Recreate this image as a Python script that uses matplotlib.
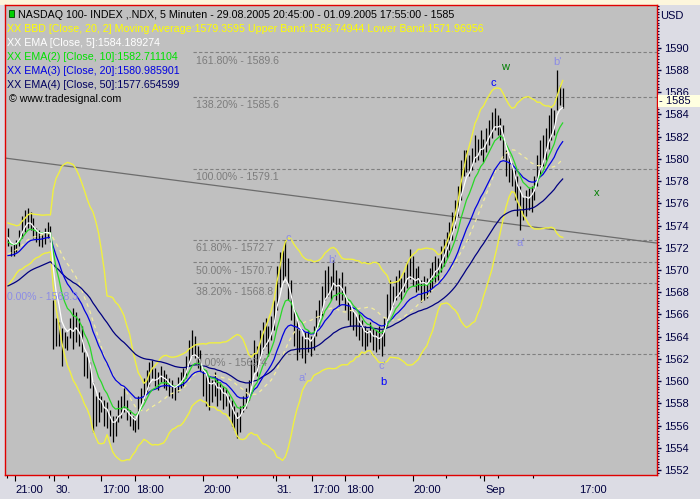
import numpy as np
import pandas as pd
import matplotlib
matplotlib.use("Agg")
import matplotlib.pyplot as plt
from matplotlib.patches import Rectangle
from matplotlib.ticker import MultipleLocator

plt.rcParams["font.family"] = ["Liberation Sans", "DejaVu Sans"]

# 5 minute bars, NASDAQ 100 (.NDX), 29.08.2005 20:45 - 01.09.2005 17:55
high = [1573.8, 1572.2, 1572.4, 1572.7, 1573.6, 1574.9, 1575.4, 1575.6, 1575.2, 1574.7,
        1573.8, 1573.6, 1573.4, 1573.8, 1574.3, 1574.0, 1567.3, 1565.7, 1565.3, 1564.8,
        1564.4, 1564.1, 1565.7, 1566.6, 1566.2, 1565.7, 1565.0, 1562.6, 1562.3, 1561.7,
        1559.9, 1558.7, 1559.0, 1558.7, 1558.3, 1558.1, 1557.4, 1556.9, 1556.9, 1558.3,
        1558.7, 1559.4, 1558.3, 1557.4, 1556.9, 1556.7, 1558.7, 1559.4, 1560.3, 1561.0,
        1561.7, 1561.9, 1561.2, 1560.8, 1561.4, 1561.0, 1560.6, 1560.3, 1560.1, 1559.6,
        1560.4, 1560.8, 1561.2, 1562.3, 1563.7, 1564.6, 1564.1, 1563.2, 1562.8, 1561.1,
        1561.0, 1560.5, 1560.1, 1560.8, 1560.3, 1559.9, 1559.6, 1559.4, 1558.7, 1558.3,
        1557.8, 1557.2, 1557.8, 1558.7, 1559.4, 1560.1, 1561.9, 1563.7, 1563.2, 1564.6,
        1565.3, 1565.7, 1565.0, 1565.9, 1567.3, 1570.4, 1571.6, 1571.8, 1572.7, 1571.1,
        1569.1, 1566.4, 1565.5, 1564.6, 1564.1, 1564.4, 1564.6, 1564.1, 1565.0, 1566.4,
        1567.3, 1568.6, 1570.0, 1570.4, 1569.5, 1570.9, 1570.0, 1569.3, 1569.8, 1568.6,
        1567.3, 1567.0, 1566.4, 1565.9, 1566.2, 1565.5, 1565.0, 1564.6, 1565.3, 1564.8,
        1564.6, 1565.0, 1564.6, 1565.7, 1567.8, 1569.1, 1568.6, 1569.5, 1570.0, 1569.3,
        1569.8, 1570.7, 1571.9, 1571.3, 1570.2, 1570.4, 1569.1, 1569.5, 1569.3, 1570.2,
        1570.7, 1571.3, 1571.1, 1572.2, 1572.8, 1573.4, 1574.3, 1575.2, 1576.3, 1577.6,
        1579.9, 1580.8, 1580.8, 1580.3, 1581.0, 1582.1, 1581.8, 1582.6, 1581.8, 1582.8,
        1583.5, 1584.2, 1584.6, 1583.9, 1583.7, 1583.0, 1580.8, 1580.3, 1579.6, 1579.0,
        1578.5, 1577.6, 1576.7, 1577.2, 1577.4, 1577.6, 1578.5, 1580.3, 1581.7, 1582.1,
        1582.8, 1583.9, 1584.6, 1584.4, 1588.0, 1586.6, 1586.4]
low = [1572.2, 1571.3, 1571.3, 1571.6, 1572.2, 1572.9, 1573.4, 1573.8, 1573.6, 1572.9,
       1572.5, 1572.2, 1572.1, 1572.3, 1572.9, 1572.5, 1562.9, 1563.2, 1563.2, 1561.4,
       1563.0, 1562.8, 1563.9, 1562.9, 1563.5, 1563.2, 1562.6, 1560.5, 1560.3, 1559.4,
       1555.4, 1556.0, 1556.3, 1557.2, 1556.0, 1555.8, 1555.1, 1554.5, 1555.1, 1556.3,
       1556.7, 1557.2, 1556.5, 1556.0, 1555.6, 1555.4, 1555.7, 1557.8, 1558.3, 1559.0,
       1559.6, 1560.3, 1559.6, 1559.2, 1559.9, 1559.4, 1559.2, 1558.7, 1558.5, 1558.3,
       1559.0, 1559.4, 1559.6, 1560.3, 1561.4, 1562.3, 1562.1, 1561.2, 1560.8, 1558.7,
       1557.8, 1557.4, 1558.1, 1558.7, 1557.8, 1558.3, 1557.5, 1557.8, 1556.9, 1556.0,
       1555.6, 1554.9, 1555.4, 1557.2, 1557.6, 1558.3, 1559.6, 1560.8, 1560.5, 1561.9,
       1562.8, 1563.2, 1562.3, 1563.7, 1564.6, 1566.4, 1568.5, 1569.1, 1569.5, 1567.3,
       1565.5, 1563.2, 1561.9, 1562.6, 1562.1, 1561.6, 1562.6, 1562.3, 1562.8, 1564.1,
       1565.0, 1565.9, 1567.3, 1567.7, 1567.3, 1568.2, 1567.3, 1566.8, 1567.3, 1566.4,
       1565.5, 1565.0, 1564.6, 1564.1, 1563.7, 1563.2, 1562.8, 1563.2, 1563.5, 1562.8,
       1562.6, 1562.9, 1562.3, 1563.2, 1565.0, 1566.4, 1566.8, 1567.3, 1567.7, 1567.3,
       1568.0, 1568.4, 1569.2, 1568.6, 1568.0, 1568.2, 1567.1, 1567.3, 1567.5, 1568.0,
       1568.4, 1568.9, 1569.1, 1569.8, 1570.4, 1571.1, 1571.8, 1572.7, 1573.8, 1574.9,
       1576.3, 1578.5, 1578.8, 1578.5, 1579.0, 1579.7, 1579.9, 1580.3, 1579.7, 1580.6,
       1581.2, 1581.9, 1582.6, 1582.1, 1581.7, 1580.1, 1578.5, 1577.9, 1577.6, 1576.3,
       1574.9, 1573.6, 1574.5, 1574.9, 1575.4, 1575.2, 1576.3, 1577.6, 1578.5, 1579.4,
       1579.9, 1580.9, 1581.7, 1582.1, 1584.4, 1584.8, 1584.6]
close = [1572.8, 1571.6, 1572.0, 1572.5, 1573.4, 1574.6, 1574.8, 1575.0, 1574.2, 1573.3,
         1573.0, 1572.8, 1573.2, 1573.5, 1573.4, 1573.2, 1564.0, 1563.8, 1564.5, 1562.4,
         1563.6, 1563.8, 1565.2, 1564.0, 1565.5, 1563.8, 1562.9, 1561.0, 1561.5, 1559.8,
         1556.5, 1558.0, 1556.8, 1557.8, 1556.4, 1557.2, 1555.6, 1555.2, 1556.4, 1557.8,
         1557.3, 1558.6, 1557.0, 1556.3, 1556.2, 1556.0, 1558.2, 1559.0, 1559.6, 1560.6,
         1561.2, 1560.8, 1560.0, 1560.4, 1561.0, 1560.0, 1559.8, 1559.2, 1559.0, 1559.2,
         1560.0, 1560.3, 1560.9, 1562.0, 1563.2, 1563.6, 1562.6, 1561.8, 1561.2, 1559.2,
         1560.2, 1558.0, 1559.6, 1560.2, 1558.4, 1559.4, 1558.0, 1558.8, 1557.2, 1556.6,
         1556.0, 1555.6, 1557.2, 1558.4, 1558.2, 1559.8, 1561.4, 1563.0, 1561.4, 1564.0,
         1564.6, 1564.0, 1564.4, 1565.4, 1566.8, 1569.8, 1569.4, 1571.0, 1570.2, 1567.8,
         1566.0, 1563.8, 1564.2, 1563.2, 1563.8, 1562.4, 1564.0, 1563.0, 1564.6, 1566.0,
         1566.8, 1568.2, 1569.4, 1568.4, 1569.0, 1570.2, 1568.0, 1568.8, 1567.8, 1566.8,
         1566.0, 1566.4, 1565.0, 1565.4, 1564.2, 1564.4, 1563.4, 1564.0, 1564.8, 1563.2,
         1564.0, 1563.4, 1564.2, 1565.4, 1567.4, 1567.2, 1568.2, 1569.0, 1568.2, 1569.0,
         1569.4, 1570.4, 1569.8, 1569.0, 1568.6, 1569.6, 1568.0, 1569.0, 1568.4, 1569.8,
         1570.0, 1570.8, 1570.4, 1571.8, 1572.2, 1573.0, 1573.8, 1574.8, 1575.8, 1577.2,
         1579.4, 1579.2, 1580.2, 1579.4, 1580.6, 1581.6, 1580.6, 1582.0, 1581.0, 1582.4,
         1583.0, 1583.4, 1583.8, 1582.8, 1583.2, 1580.6, 1579.2, 1578.6, 1578.0, 1576.8,
         1575.6, 1576.2, 1575.4, 1576.6, 1576.2, 1577.2, 1578.0, 1579.8, 1581.0, 1580.6,
         1582.4, 1583.4, 1583.2, 1584.0, 1586.4, 1585.4, 1585.0]

# closes before the visible window (warm-up for the indicators)
pre_close = [1569.0, 1569.4, 1569.2, 1569.8, 1570.3, 1570.0, 1570.6, 1571.2, 1570.9, 1571.5,
             1572.0, 1571.6, 1572.2, 1572.8, 1572.4, 1573.0, 1573.4, 1572.9, 1573.3]
ema_seed = {5: 1569.0, 10: 1568.5, 20: 1566.0, 50: 1564.7}

fib_levels = [1589.6, 1585.6, 1579.1, 1572.7, 1570.7, 1568.8, 1562.4]
fib_labels = ["161.80% - 1589.6", "138.20% - 1585.6", "100.00% - 1579.1",
              "61.80% - 1572.7", "50.00% - 1570.7", "38.20% - 1568.8", "0.00% - 1562.4"]
trend_x = [-1.06, 229.3]
trend_y = [1580.07, 1572.42]

# wave labels: text, bar index, price, colour
waves = [("w", 175.6, 1588.3, "#008000"), ("c", 171.4, 1586.8, "#0000ff"),
         ("b'", 194.3, 1588.7, "#8c8ce6"), ("a'", 181.3, 1572.4, "#8c8ce6"),
         ("x", 208.1, 1576.9, "#008000"), ("c", 98.9, 1572.9, "#8c8ce6"),
         ("b'", 114.8, 1570.9, "#8c8ce6"), ("a'", 104.2, 1560.3, "#8c8ce6"),
         ("c'", 132.2, 1561.4, "#8c8ce6"), ("b", 132.5, 1559.9, "#0000ff")]

xtick_pos = [2.5, 16.4, 32.9, 44.9, 68.8, 94.7, 107.3, 119.1, 143.0, 168.3]
xtick_labels = ["21:00", "30.", "17:00", "18:00", "20:00", "31.", "17:00", "18:00", "20:00", "Sep"]
xtick_minor = [-0.25, 14.6, 21.3, 56.9, 80.8, 93.5, 99.4, 130.8, 154.8, 166.8, 173.3, 185.4]
extra_label = ("17:00", 201.4)

# indicators
allc = np.array(pre_close + close)
npre = len(pre_close)


def ema(values, n, seed):
    a = 2.0 / (n + 1)
    e = seed
    out = []
    for v in values:
        e = e + a * (v - e)
        out.append(e)
    return np.array(out)[npre:]


s = pd.Series(allc)
bb_mid = s.rolling(20).mean().values[npre:]
bb_sd = s.rolling(20).std(ddof=0).values[npre:]
bb_up = bb_mid + 2 * bb_sd
bb_lo = bb_mid - 2 * bb_sd

W, H = 700, 499
fig = plt.figure(figsize=(7, 4.99), dpi=100)
fig.patch.set_facecolor("#dcdce4")
fig.add_artist(Rectangle((0, 1 - 5 / H), 1, 5 / H, transform=fig.transFigure,
                         facecolor="#fdf6dc", edgecolor="none", zorder=0))

ax = fig.add_axes([5 / W, 1 - 474.5 / H, 652 / W, 469.5 / H])
ax.set_facecolor("#c0c0c0")
ax.set_xlim(-1.06, 229.33)
ax.set_ylim(1551.6, 1593.84)

x = np.arange(len(close))

for lvl, lbl in zip(fib_levels, fib_labels):
    ax.hlines(lvl, 65.4, 229.33, colors="#808080", linestyles=(0, (3, 2)), lw=0.8, zorder=1)
    ax.annotate(lbl, (66.4, lvl), xytext=(0, -2.5), textcoords="offset points",
                va="top", ha="left", fontsize=7.6, color="#7c7c7c", zorder=6)
ax.annotate("0.00% - 1568.3", (-0.4, 1568.3), xytext=(0, -2.5), textcoords="offset points",
            va="top", ha="left", fontsize=7.6, color="#8c8ce6", zorder=6)

ax.plot(trend_x, trend_y, color="#6c6c6c", lw=0.9, zorder=1)

ax.vlines(x, low, high, color="black", lw=0.9, zorder=3)

ax.plot(x, bb_up, color="#f0f040", lw=1.0, zorder=4)
ax.plot(x, bb_lo, color="#f0f040", lw=1.0, zorder=4)
ax.plot(x, bb_mid, color="#f4ee9c", lw=0.9, ls=(0, (3, 3)), zorder=4)
ax.plot(x, ema(allc, 50, ema_seed[50]), color="#000080", lw=0.9, zorder=4)
ax.plot(x, ema(allc, 20, ema_seed[20]), color="#0000e0", lw=0.9, zorder=4)
ax.plot(x, ema(allc, 10, ema_seed[10]), color="#28d828", lw=0.9, zorder=4)
ax.plot(x, ema(allc, 5, ema_seed[5]), color="white", lw=0.9, zorder=5)

for txt, xi, yi, col in waves:
    ax.text(xi, yi, txt, color=col, fontsize=8, ha="center", va="center", zorder=6)

for sp in ax.spines.values():
    sp.set_color("#e00000")
    sp.set_linewidth(1.0)

ax.yaxis.tick_right()
ax.set_yticks(np.arange(1552, 1591, 2))
ax.yaxis.set_minor_locator(MultipleLocator(0.25))
ax.tick_params(axis="y", which="major", length=3, width=1, pad=2, labelsize=8,
               color="#000040", labelcolor="#000040")
ax.tick_params(axis="y", which="minor", length=1.5, width=0.8, color="#000040")

ax.set_xticks(xtick_pos)
ax.set_xticklabels([])
ax.set_xticks(xtick_minor, minor=True)
ax.tick_params(axis="x", which="major", length=4, width=0.8, color="black")
ax.tick_params(axis="x", which="minor", length=2.5, width=0.8, color="black")
tr = ax.get_xaxis_transform()
for pos, lbl in zip(xtick_pos + [extra_label[1]], xtick_labels + [extra_label[0]]):
    ax.text(pos + 0.3, -0.033, lbl, transform=tr, ha="left", va="center",
            fontsize=8, color="#000040", clip_on=False)

# last price marker on the scale
fig.add_artist(Rectangle((658 / W, 1 - 107 / H), 42 / W, 12 / H, transform=fig.transFigure,
                         facecolor="#ffffe0", edgecolor="none", zorder=5))
fig.text(659 / W, 1 - 101 / H, "- 1585", fontsize=8, color="#000040", va="center", ha="left", zorder=6)
fig.text(660 / W, 1 - 16 / H, "USD", fontsize=8, color="#000040", va="center", ha="left")

# header / legend
fig.add_artist(Rectangle((9 / W, 1 - 17 / H), 5 / W, 7 / H, transform=fig.transFigure,
                         facecolor="#00d000", edgecolor="#004000", lw=0.6, zorder=6))
header = [
    ("NASDAQ 100- INDEX ,.NDX, 5 Minuten - 29.08.2005 20:45:00 - 01.09.2005 17:55:00 - 1585", 18, 15, "black"),
    ("XX BBD [Close, 20, 2] Moving Average:1579.3595 Upper Band:1586.74944 Lower Band:1571.96956", 7, 29, "#ffff00"),
    ("XX EMA [Close, 5]:1584.189274", 7, 43, "white"),
    ("XX EMA(2) [Close, 10]:1582.711104", 7, 57, "#00e000"),
    ("XX EMA(3) [Close, 20]:1580.985901", 7, 71, "#0000e0"),
    ("XX EMA(4) [Close, 50]:1577.654599", 7, 85, "#000060"),
    ("\u00a9 www.tradesignal.com", 9, 99, "black"),
]
for txt, px, py, col in header:
    fig.text(px / W, 1 - py / H, txt, fontsize=7.7, color=col, va="center", ha="left", zorder=6)

fig.savefig("out.png", dpi=100, facecolor=fig.get_facecolor())
